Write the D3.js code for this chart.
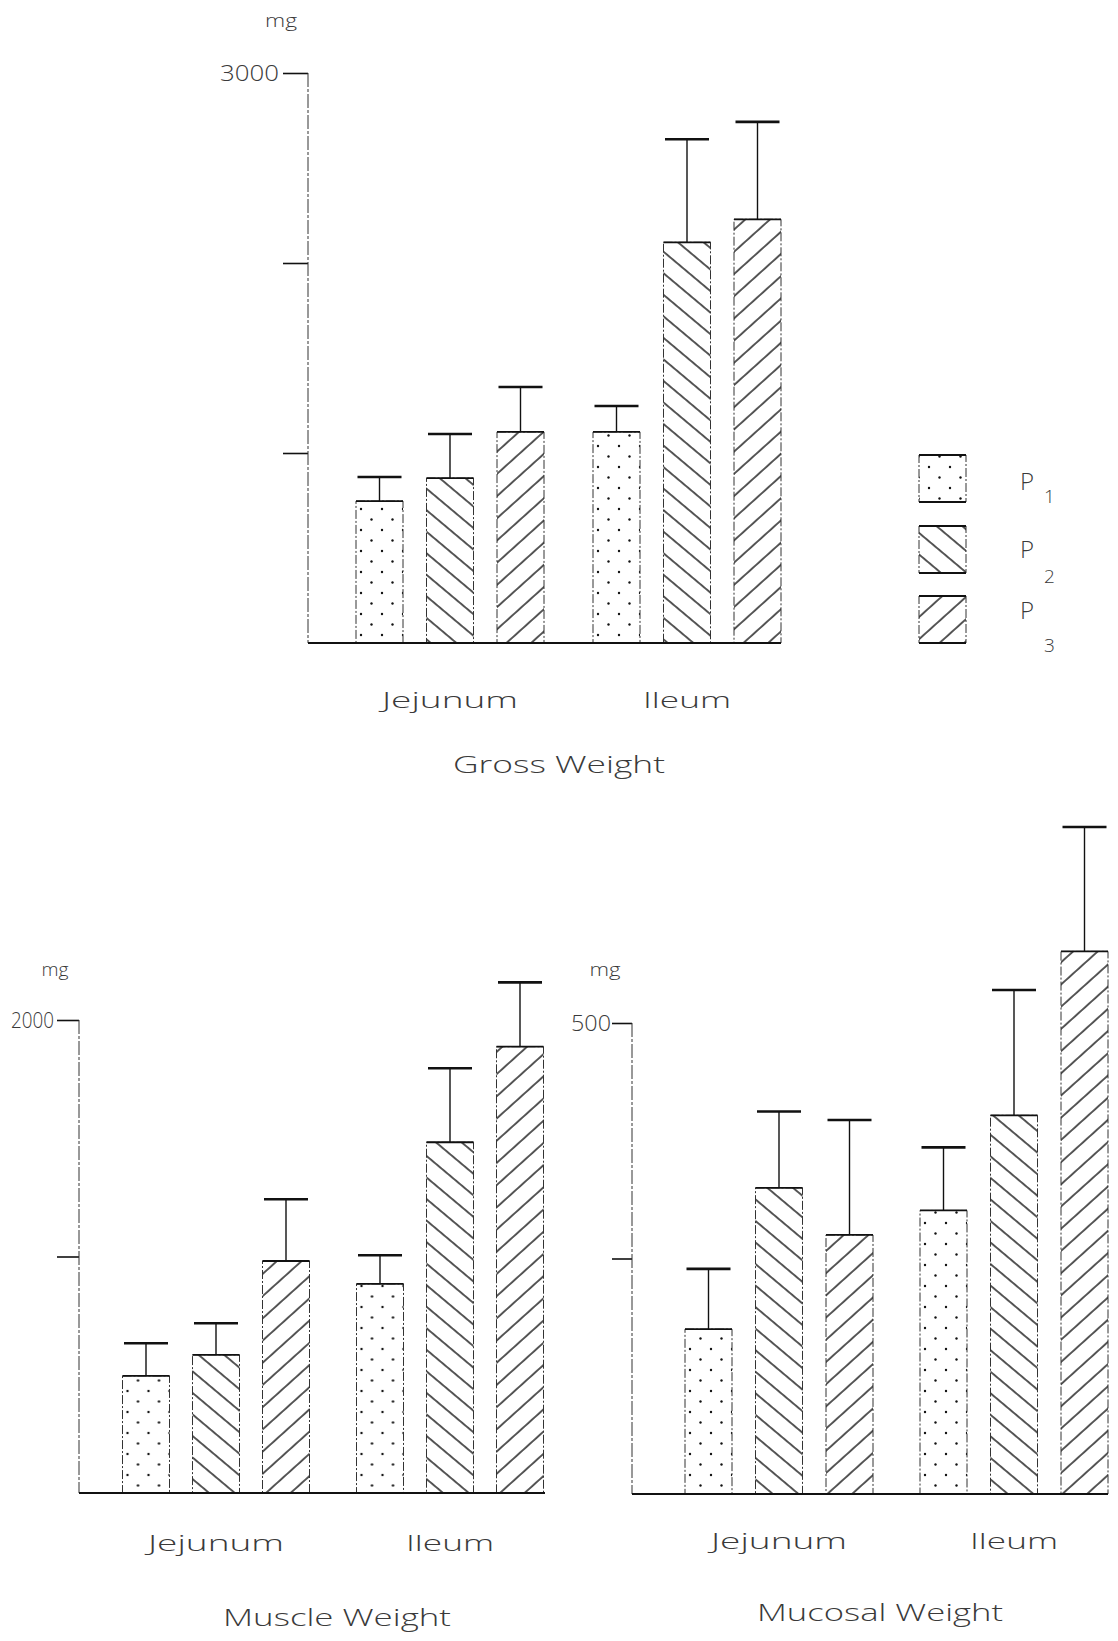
<!DOCTYPE html>
<html>
<head>
<meta charset="utf-8">
<script src="https://cdn.jsdelivr.net/npm/d3@7"></script>
<style>
  html, body { margin: 0; padding: 0; background: #fff; }
  svg { display: block; }
  text { font-family: "Open Sans", "DejaVu Sans", sans-serif; font-weight: 300; fill: #3a3a3a; }
</style>
</head>
<body>
<svg id="chart" width="1118" height="1641"></svg>
<script>
// ---------------- DATA ----------------
const categories = ["Jejunum", "Ileum"];
const series = ["P1", "P2", "P3"];
const seriesSubs = ["1", "2", "3"];

// Gross weight (mg): means and error (upper SD) per series P1..P3
const grossJejunum = [747, 868, 1111];
const grossIleum = [1111, 2109, 2230];
const grossJejunumErr = [127, 232, 236];
const grossIleumErr = [136, 542, 513];
const grossTicks = [1000, 2000, 3000];
const grossTickLabels = ["", "", "3000"];

// Muscle weight (mg)
const muscleJejunum = [495, 584, 981];
const muscleIleum = [884, 1483, 1887];
const muscleJejunumErr = [138, 134, 261];
const muscleIleumErr = [121, 313, 272];
const muscleTicks = [1000, 2000];
const muscleTickLabels = ["", "2000"];

// Mucosal weight (mg)
const mucosalJejunum = [175, 325, 275];
const mucosalIleum = [301, 402, 576];
const mucosalJejunumErr = [64, 81, 122];
const mucosalIleumErr = [67, 133, 132];
const mucosalTicks = [250, 500];
const mucosalTickLabels = ["", "500"];

const titles = ["Gross Weight", "Muscle Weight", "Mucosal Weight"];
const unitLabel = "mg";

// ---------------- SETUP ----------------
const svg = d3.select("#chart");
const defs = svg.append("defs");
const ink = "#111";

// dots pattern (P1)
const pDots = defs.append("pattern").attr("id", "pat-P1")
  .attr("patternUnits", "userSpaceOnUse").attr("width", 21).attr("height", 21);
pDots.append("circle").attr("cx", 5).attr("cy", 5).attr("r", 1.2).attr("fill", ink);
pDots.append("circle").attr("cx", 15.5).attr("cy", 15.5).attr("r", 1.2).attr("fill", ink);

// back-slash hatch (P2)
const pBack = defs.append("pattern").attr("id", "pat-P2")
  .attr("patternUnits", "userSpaceOnUse").attr("width", 16.5).attr("height", 16.5)
  .attr("patternTransform", "rotate(-50)");
pBack.append("line").attr("x1", 1).attr("y1", -2).attr("x2", 1).attr("y2", 20)
  .attr("stroke", ink).attr("stroke-width", 1.4);

// forward-slash hatch (P3)
const pFwd = defs.append("pattern").attr("id", "pat-P3")
  .attr("patternUnits", "userSpaceOnUse").attr("width", 16.5).attr("height", 16.5)
  .attr("patternTransform", "rotate(48)");
pFwd.append("line").attr("x1", 1).attr("y1", -2).attr("x2", 1).attr("y2", 20)
  .attr("stroke", ink).attr("stroke-width", 1.4);

function makeRows(jej, ile, jejErr, ileErr) {
  return [
    { cat: categories[0], values: jej.map((v, i) => ({ s: series[i], v, e: jejErr[i] })) },
    { cat: categories[1], values: ile.map((v, i) => ({ s: series[i], v, e: ileErr[i] })) }
  ];
}

function drawPanel(cfg) {
  const g = svg.append("g");
  const y = d3.scaleLinear().domain([0, cfg.yMax]).range([cfg.y0, cfg.yTop]);
  const groupWidth = 2 * cfg.barStep + cfg.barW;
  const x = d3.scaleBand().domain(categories)
    .range([cfg.x0, cfg.x0 + cfg.groupStep + groupWidth])
    .paddingInner(1 - groupWidth / cfg.groupStep).paddingOuter(0);
  const xi = d3.scaleBand().domain(series)
    .range([0, groupWidth]).paddingInner(1 - cfg.barW / cfg.barStep).paddingOuter(0);

  // y axis
  const axis = d3.axisLeft(y).tickValues(cfg.ticks).tickSize(cfg.tickLen).tickPadding(cfg.tickPad)
    .tickFormat((d, i) => cfg.tickLabels[i]);
  const ag = g.append("g").attr("transform", `translate(${cfg.axisX},0)`).call(axis);
  ag.select(".domain").remove();
  ag.selectAll(".tick line").attr("stroke", ink).attr("stroke-width", 1.6);
  ag.selectAll(".tick text")
    .attr("fill", "#3a3a3a").attr("font-size", 22)
    .style("font-family", '"Open Sans", "DejaVu Sans", sans-serif').style("font-weight", 300)
    .each(function (d, i) {
      if (cfg.tickLabels[i]) d3.select(this).attr("textLength", cfg.tickLabelW).attr("lengthAdjust", "spacingAndGlyphs");
    });
  g.append("line").attr("x1", cfg.axisX).attr("x2", cfg.axisX)
    .attr("y1", y(cfg.ticks[cfg.ticks.length - 1])).attr("y2", y(0))
    .attr("stroke", "#333").attr("stroke-width", 1).attr("stroke-dasharray", "14,2,3,2");

  // unit label
  g.append("text").attr("x", cfg.mgX).attr("y", cfg.mgY).attr("text-anchor", "middle")
    .attr("font-size", 19).attr("textLength", cfg.mgW).attr("lengthAdjust", "spacingAndGlyphs")
    .text(unitLabel);

  // bars
  const groups = g.selectAll(".grp").data(cfg.rows).join("g")
    .attr("transform", d => `translate(${x(d.cat)},0)`);
  const bars = groups.selectAll(".bar").data(d => d.values).join("g");
  bars.append("rect")
    .attr("x", d => xi(d.s)).attr("width", xi.bandwidth())
    .attr("y", d => y(d.v)).attr("height", d => y(0) - y(d.v))
    .attr("fill", d => `url(#pat-${d.s})`)
    .attr("stroke", "#333").attr("stroke-width", 1).attr("stroke-dasharray", "9,2,2,2");
  bars.append("line")
    .attr("x1", d => xi(d.s)).attr("x2", d => xi(d.s) + xi.bandwidth())
    .attr("y1", d => y(d.v)).attr("y2", d => y(d.v))
    .attr("stroke", ink).attr("stroke-width", 1.8);
  // error bars
  bars.append("line")
    .attr("x1", d => xi(d.s) + xi.bandwidth() / 2).attr("x2", d => xi(d.s) + xi.bandwidth() / 2)
    .attr("y1", d => y(d.v)).attr("y2", d => y(d.v + d.e))
    .attr("stroke", ink).attr("stroke-width", 1.4);
  bars.append("line")
    .attr("x1", d => xi(d.s) + 1.5).attr("x2", d => xi(d.s) + xi.bandwidth() - 1.5)
    .attr("y1", d => y(d.v + d.e)).attr("y2", d => y(d.v + d.e))
    .attr("stroke", ink).attr("stroke-width", 2.6);

  // baseline
  g.append("line").attr("x1", cfg.axisX).attr("x2", cfg.baseEnd)
    .attr("y1", y(0)).attr("y2", y(0))
    .attr("stroke", ink).attr("stroke-width", 2.2);

  // category labels
  const catW = { "Jejunum": 136, "Ileum": 88 };
  g.selectAll(".cat").data(categories).join("text")
    .attr("x", d => x(d) + x.bandwidth() / 2).attr("y", cfg.catY)
    .attr("text-anchor", "middle").attr("font-size", 22)
    .attr("textLength", d => catW[d]).attr("lengthAdjust", "spacingAndGlyphs")
    .text(d => d);

  // title
  g.append("text").attr("x", cfg.titleX).attr("y", cfg.titleY).attr("text-anchor", "middle")
    .attr("font-size", 23).attr("textLength", cfg.titleW).attr("lengthAdjust", "spacingAndGlyphs")
    .text(cfg.title);
}

drawPanel({
  rows: makeRows(grossJejunum, grossIleum, grossJejunumErr, grossIleumErr),
  yMax: 3000, y0: 643, yTop: 73, ticks: grossTicks, tickLabels: grossTickLabels,
  tickLen: 25, tickPad: 4, tickLabelW: 59,
  x0: 356, groupStep: 237, barStep: 70.5, barW: 47, axisX: 308, baseEnd: 781,
  mgX: 281, mgY: 27, mgW: 32,
  catY: 708, title: titles[0], titleX: 559, titleY: 773, titleW: 212
});

drawPanel({
  rows: makeRows(muscleJejunum, muscleIleum, muscleJejunumErr, muscleIleumErr),
  yMax: 2000, y0: 1493, yTop: 1020, ticks: muscleTicks, tickLabels: muscleTickLabels,
  tickLen: 22, tickPad: 3, tickLabelW: 43,
  x0: 122.5, groupStep: 234, barStep: 70, barW: 47, axisX: 79, baseEnd: 545,
  mgX: 55, mgY: 976, mgW: 27,
  catY: 1551, title: titles[1], titleX: 337, titleY: 1626, titleW: 228
});

drawPanel({
  rows: makeRows(mucosalJejunum, mucosalIleum, mucosalJejunumErr, mucosalIleumErr),
  yMax: 500, y0: 1494, yTop: 1023, ticks: mucosalTicks, tickLabels: mucosalTickLabels,
  tickLen: 20, tickPad: 1, tickLabelW: 40,
  x0: 685, groupStep: 235, barStep: 70.5, barW: 47, axisX: 632, baseEnd: 1108,
  mgX: 605, mgY: 976, mgW: 31,
  catY: 1549, title: titles[2], titleX: 880, titleY: 1621, titleW: 246
});

// legend
const legendY = [455, 526, 596];
const legendPY = [490, 558, 619];
const legendSubY = [503, 583, 652];
const lg = svg.append("g");
series.forEach((s, i) => {
  lg.append("rect").attr("x", 919).attr("y", legendY[i]).attr("width", 47).attr("height", 47)
    .attr("fill", `url(#pat-${s})`).attr("stroke", "#333").attr("stroke-width", 1).attr("stroke-dasharray", "9,2,2,2");
  lg.append("line").attr("x1", 919).attr("x2", 966).attr("y1", legendY[i]).attr("y2", legendY[i])
    .attr("stroke", ink).attr("stroke-width", 1.8);
  lg.append("line").attr("x1", 919).attr("x2", 966).attr("y1", legendY[i] + 47).attr("y2", legendY[i] + 47)
    .attr("stroke", ink).attr("stroke-width", 1.8);
  const t = lg.append("text").attr("x", 1020).attr("y", legendPY[i]).attr("font-size", 24);
  t.append("tspan").text("P");
  t.append("tspan").attr("x", 1044).attr("y", legendSubY[i]).attr("font-size", 19).text(seriesSubs[i]);
});
</script>
</body>
</html>
